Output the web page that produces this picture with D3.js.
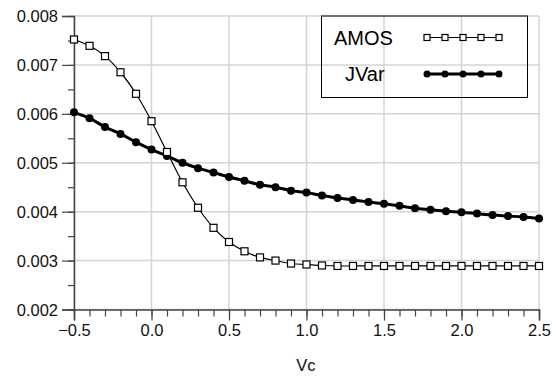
<!DOCTYPE html>
<html>
<head>
<meta charset="utf-8">
<script src="https://cdn.jsdelivr.net/npm/d3@7"></script>
<style>
  body { margin: 0; background: #fff; }
  svg { font-family: "Liberation Sans", Arial, sans-serif; }
</style>
</head>
<body>
<script>
// data
const vc = d3.range(31).map(i => Math.round((-0.5 + i * 0.1) * 10) / 10);
const amos = [0.00752, 0.00739, 0.00718, 0.00685, 0.00641, 0.00585, 0.00522, 0.00460, 0.00408, 0.00367,
  0.00338, 0.00319, 0.003065, 0.00300, 0.00294, 0.00292, 0.00290, 0.00289, 0.00289, 0.00289,
  0.00289, 0.00289, 0.00289, 0.00289, 0.00289, 0.00289, 0.00289, 0.00289, 0.00289, 0.00289, 0.00289];
const jvar = [0.00603, 0.00591, 0.00573, 0.00559, 0.00542, 0.00527, 0.00514, 0.00500, 0.00489, 0.00480,
  0.00471, 0.00463, 0.00455, 0.00450, 0.00443, 0.00439, 0.00433, 0.00428, 0.00424, 0.00420,
  0.00416, 0.00412, 0.00407, 0.00404, 0.00401, 0.00399, 0.00396, 0.00393, 0.00391, 0.00389, 0.00386];
const xTicks = [-0.5, 0.0, 0.5, 1.0, 1.5, 2.0, 2.5];
const yTicks = [0.002, 0.003, 0.004, 0.005, 0.006, 0.007, 0.008];

const width = 556, height = 376;
const svg = d3.select("body").append("svg").attr("width", width).attr("height", height);

const x = d3.scaleLinear().domain([-0.5, 2.5]).range([74, 539]);
const y = d3.scaleLinear().domain([0.002, 0.008]).range([309.5, 16]);

// grid
svg.append("g").selectAll("line").data(xTicks).enter().append("line")
  .attr("x1", d => x(d)).attr("x2", d => x(d)).attr("y1", y(0.002)).attr("y2", y(0.008))
  .attr("stroke", "#d4d4d4").attr("stroke-width", 1.5);
svg.append("g").selectAll("line").data(yTicks).enter().append("line")
  .attr("x1", x(-0.5)).attr("x2", x(2.5)).attr("y1", d => y(d)).attr("y2", d => y(d))
  .attr("stroke", "#d4d4d4").attr("stroke-width", 1.5);

// axes
svg.append("g").attr("transform", `translate(0,${y(0.002)})`)
  .call(d3.axisBottom(x).tickValues(xTicks).tickSize(11).tickPadding(4).tickFormat(d3.format(".1f")));
svg.append("g").attr("transform", `translate(0,${y(0.002)})`)
  .call(d3.axisBottom(x).tickValues(d3.range(31).map(i => -0.5 + i * 0.1)).tickSize(7).tickFormat(""))
  .select(".domain").remove();
const yAxis = svg.append("g").attr("transform", `translate(${x(-0.5)},0)`)
  .call(d3.axisLeft(y).tickValues(yTicks).tickSize(12).tickPadding(4).tickFormat(d3.format(".3f")));
svg.append("g").attr("transform", `translate(${x(-0.5)},0)`)
  .call(d3.axisLeft(y).tickValues(d3.range(13).map(i => 0.002 + i * 0.0005)).tickSize(6).tickFormat(""))
  .select(".domain").remove();

svg.selectAll(".domain").attr("stroke", "#444").attr("stroke-width", 1.5);
svg.selectAll(".tick line").attr("stroke", "#444").attr("stroke-width", 1.2);
svg.selectAll(".tick text").attr("font-size", 16.5).attr("fill", "#111")
  .attr("font-family", "Liberation Sans, Arial, sans-serif");
yAxis.selectAll(".tick text").attr("dy", "0.36em");

svg.append("text").attr("x", 306).attr("y", 371).attr("text-anchor", "middle")
  .attr("font-size", 16.5).attr("fill", "#111").text("Vc");

// series
const line = d3.line().curve(d3.curveCatmullRom);
const amosPts = vc.map((v, i) => [x(v), y(amos[i])]);
const jvarPts = vc.map((v, i) => [x(v), y(jvar[i])]);

svg.append("path").attr("d", line(jvarPts)).attr("fill", "none").attr("stroke", "#000").attr("stroke-width", 3);
svg.append("g").selectAll("circle").data(jvarPts).enter().append("circle")
  .attr("cx", d => d[0]).attr("cy", d => d[1]).attr("r", 4).attr("fill", "#000");

svg.append("path").attr("d", line(amosPts)).attr("fill", "none").attr("stroke", "#000").attr("stroke-width", 1.2);
svg.append("g").selectAll("rect").data(amosPts).enter().append("rect")
  .attr("x", d => d[0] - 3.5).attr("y", d => d[1] - 3.5).attr("width", 7).attr("height", 7)
  .attr("fill", "#fff").attr("stroke", "#000").attr("stroke-width", 1.2);

// legend
const lg = svg.append("g");
lg.append("rect").attr("x", 321.5).attr("y", 16).attr("width", 206).attr("height", 81.5)
  .attr("fill", "none").attr("stroke", "#000").attr("stroke-width", 1);
lg.append("text").attr("x", 334).attr("y", 45).attr("font-size", 20).attr("fill", "#000").text("AMOS");
lg.append("text").attr("x", 345).attr("y", 81).attr("font-size", 20).attr("fill", "#000").text("JVar");
const lx = d3.range(5).map(i => 427 + i * 18);
lg.append("line").attr("x1", 427).attr("x2", 499).attr("y1", 37.5).attr("y2", 37.5)
  .attr("stroke", "#000").attr("stroke-width", 1.2);
lg.selectAll(".ls").data(lx).enter().append("rect")
  .attr("x", d => d - 3).attr("y", 34.5).attr("width", 6).attr("height", 6)
  .attr("fill", "#fff").attr("stroke", "#000").attr("stroke-width", 1.2);
lg.append("line").attr("x1", 427).attr("x2", 499).attr("y1", 74).attr("y2", 74)
  .attr("stroke", "#000").attr("stroke-width", 3);
lg.selectAll(".lc").data(lx).enter().append("circle")
  .attr("cx", d => d).attr("cy", 74).attr("r", 3.5).attr("fill", "#000");
</script>
</body>
</html>
